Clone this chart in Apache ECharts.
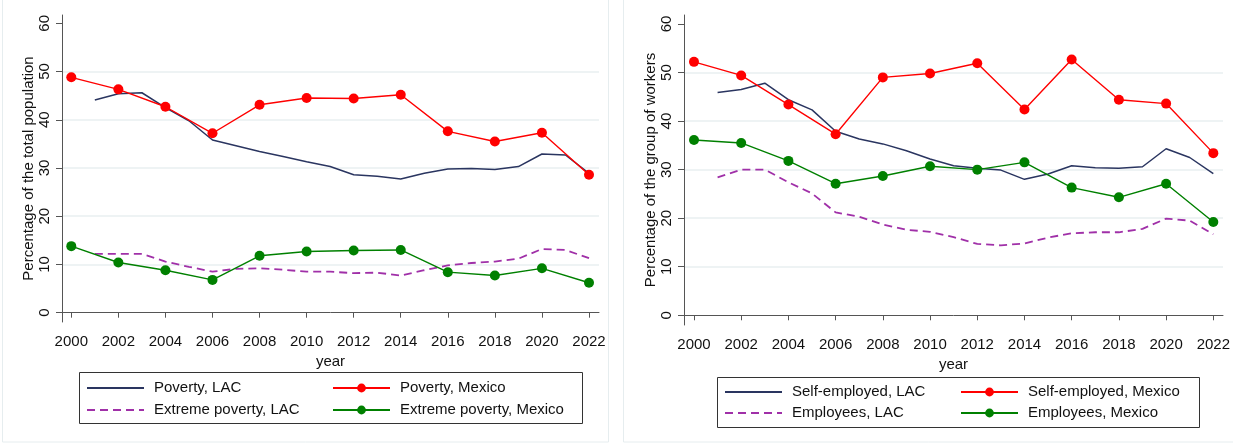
<!DOCTYPE html>
<html>
<head>
<meta charset="utf-8">
<script src="https://cdn.jsdelivr.net/npm/echarts@6.0.0/dist/echarts.min.js"></script>
<style>
  html, body { margin: 0; padding: 0; background: #fff; }
  #main { width: 1233px; height: 444px; }
</style>
</head>
<body>
<div id="main"></div>
<script>
// years
var yearsMx = [2000, 2002, 2004, 2006, 2008, 2010, 2012, 2014, 2016, 2018, 2020, 2022];
var yearsLac = [2001, 2002, 2003, 2004, 2005, 2006, 2007, 2008, 2009, 2010, 2011,
                2012, 2013, 2014, 2015, 2016, 2017, 2018, 2019, 2020, 2021, 2022];
var xTicks = [2000, 2002, 2004, 2006, 2008, 2010, 2012, 2014, 2016, 2018, 2020, 2022];
var yTicks = [0, 10, 20, 30, 40, 50, 60];
var yGrid = [10, 20, 30, 40, 50];

// left panel: % of total population
var povertyLac = [44.1, 45.4, 45.6, 42.5, 39.8, 35.8, 34.6, 33.4, 32.4, 31.3, 30.3,
                  28.6, 28.3, 27.7, 28.9, 29.8, 29.9, 29.7, 30.3, 32.9, 32.7, 28.9];
var povertyMx = [48.8, 46.3, 42.7, 37.2, 43.1, 44.5, 44.4, 45.2, 37.6, 35.5, 37.3, 28.6];
var extremeLac = [12.2, 12.2, 12.2, 10.6, 9.5, 8.5, 9.1, 9.2, 8.9, 8.5, 8.5,
                  8.2, 8.3, 7.7, 8.8, 9.8, 10.3, 10.6, 11.2, 13.2, 13.0, 11.3];
var extremeMx = [13.8, 10.4, 8.8, 6.8, 11.8, 12.7, 12.9, 13.0, 8.4, 7.7, 9.2, 6.2];

// right panel: % of the group of workers
var selfLac = [45.9, 46.5, 47.8, 44.4, 42.3, 37.9, 36.3, 35.3, 33.9, 32.2, 30.8,
               30.3, 29.9, 28.0, 29.1, 30.8, 30.4, 30.3, 30.6, 34.3, 32.5, 29.2];
var selfMx = [52.2, 49.4, 43.4, 37.3, 49.0, 49.8, 51.9, 42.4, 52.7, 44.4, 43.6, 33.4];
var empLac = [28.4, 30.0, 30.0, 27.4, 25.1, 21.2, 20.3, 18.7, 17.6, 17.2, 16.1,
              14.7, 14.4, 14.8, 16.0, 16.9, 17.1, 17.1, 17.8, 19.9, 19.5, 16.7];
var empMx = [36.1, 35.5, 31.8, 27.1, 28.7, 30.7, 30.0, 31.5, 26.3, 24.3, 27.1, 19.2];

var FONT = 'Liberation Sans, Arial, sans-serif';
var NAVY = '#2a3560';
var RED = '#ff0000';
var PURPLE = '#a030a8';
var GREEN = '#008000';
var AXIS = '#555';

function pairs(xs, ys) {
    var out = [];
    for (var i = 0; i < xs.length; i++) {
        out.push([xs[i], ys[i]]);
    }
    return out;
}

// main x axis of one panel
function makeX(grid, min, max, gap) {
    return {
        type: 'value', gridIndex: grid, min: min, max: max,
        name: 'year', nameLocation: 'middle', nameGap: gap,
        nameTextStyle: { fontFamily: FONT, fontSize: 15, color: '#111' },
        axisLine: { lineStyle: { color: AXIS, width: 1 } },
        axisTick: { length: 5, lineStyle: { color: AXIS }, customValues: xTicks },
        axisLabel: {
            fontFamily: FONT, fontSize: 15, color: '#111', margin: 12, customValues: xTicks,
            formatter: function (v) { return String(v); }   // no thousands comma
        },
        splitLine: { show: false }
    };
}
// main y axis of one panel
function makeY(grid, min, max, title) {
    return {
        type: 'value', gridIndex: grid, min: min, max: max, position: 'left',
        name: title, nameLocation: 'middle', nameGap: 26,
        nameTextStyle: { fontFamily: FONT, fontSize: 15, color: '#111' },
        axisLine: { show: true, lineStyle: { color: AXIS, width: 1 } },
        axisTick: { show: true, length: 6, lineStyle: { color: AXIS }, customValues: yTicks },
        axisLabel: { fontFamily: FONT, fontSize: 15, color: '#111', margin: 10, rotate: 90, customValues: yTicks },
        splitLine: { show: false }
    };
}
// hidden y axis that only draws the light gridlines
function makeGridY(grid, min, max) {
    return {
        type: 'value', gridIndex: grid, min: min, max: max, position: 'left',
        axisLine: { show: false },
        axisTick: { show: false, customValues: yGrid },
        axisLabel: { show: false },
        splitLine: { show: true, lineStyle: { color: '#e8eff1', width: 1.5 } }
    };
}

function lacLine(name, data, xi, yi, color, dashed) {
    return {
        name: name, type: 'line', xAxisIndex: xi, yAxisIndex: yi,
        data: pairs(yearsLac, data), symbol: 'none',
        lineStyle: { color: color, width: dashed ? 1.8 : 1.5, type: dashed ? [8, 5] : 'solid' },
        itemStyle: { color: color }
    };
}
function mxLine(name, data, xi, yi, color) {
    return {
        name: name, type: 'line', xAxisIndex: xi, yAxisIndex: yi,
        data: pairs(yearsMx, data), symbol: 'circle', symbolSize: 10,
        lineStyle: { color: color, width: 1.4 },
        itemStyle: { color: color }
    };
}

// one legend per item so the two columns line up
function leg(name, left, cy, noMarker) {
    var l = {
        data: [name], left: left, top: cy - 8, padding: 0,
        itemWidth: 57, itemHeight: 11, itemGap: 0,
        textStyle: { fontFamily: FONT, fontSize: 15, color: '#111', lineHeight: 16, padding: [0, 0, 0, 5] }
    };
    if (noMarker) l.itemStyle = { opacity: 0 };
    return l;
}

var chart = echarts.init(document.getElementById('main'));
chart.setOption({
    animation: false,
    backgroundColor: '#fff',
    grid: [
        { left: 62, top: 15, width: 537, height: 307 },
        { left: 684, top: 15, width: 540, height: 310 }
    ],
    xAxis: [
        makeX(0, 1999.605, 2022.425, 28),
        makeX(1, 1999.577, 2022.41, 27)
    ],
    yAxis: [
        makeY(0, -1.93, 61.72, 'Percentage of the total population'),
        makeGridY(0, -1.93, 61.72),
        makeY(1, -2.0, 61.85, 'Percentage of the group of workers'),
        makeGridY(1, -2.0, 61.85)
    ],
    legend: [
        leg('Poverty, LAC', 86, 388, true),
        leg('Extreme poverty, LAC', 86, 410, true),
        leg('Poverty, Mexico', 332, 388),
        leg('Extreme poverty, Mexico', 332, 410),
        leg('Self-employed, LAC', 724, 392, true),
        leg('Employees, LAC', 724, 413, true),
        leg('Self-employed, Mexico', 960, 392),
        leg('Employees, Mexico', 960, 413)
    ],
    graphic: [
        // faint panel frames
        { type: 'rect', shape: { x: 2.5, y: -1, width: 606, height: 443 }, style: { fill: 'none', stroke: '#e6edef', lineWidth: 1 }, silent: true },
        { type: 'rect', shape: { x: 623.5, y: -1, width: 620, height: 443 }, style: { fill: 'none', stroke: '#e6edef', lineWidth: 1 }, silent: true },
        // legend boxes
        { type: 'rect', shape: { x: 79.5, y: 372.5, width: 503, height: 51 }, style: { fill: 'none', stroke: '#333', lineWidth: 1 }, silent: true, z: 10 },
        { type: 'rect', shape: { x: 717.5, y: 377.5, width: 482, height: 50 }, style: { fill: 'none', stroke: '#333', lineWidth: 1 }, silent: true, z: 10 }
    ],
    series: [
        lacLine('Poverty, LAC', povertyLac, 0, 0, NAVY, false),
        mxLine('Poverty, Mexico', povertyMx, 0, 0, RED),
        lacLine('Extreme poverty, LAC', extremeLac, 0, 0, PURPLE, true),
        mxLine('Extreme poverty, Mexico', extremeMx, 0, 0, GREEN),
        lacLine('Self-employed, LAC', selfLac, 1, 2, NAVY, false),
        mxLine('Self-employed, Mexico', selfMx, 1, 2, RED),
        lacLine('Employees, LAC', empLac, 1, 2, PURPLE, true),
        mxLine('Employees, Mexico', empMx, 1, 2, GREEN)
    ]
});
</script>
</body>
</html>
